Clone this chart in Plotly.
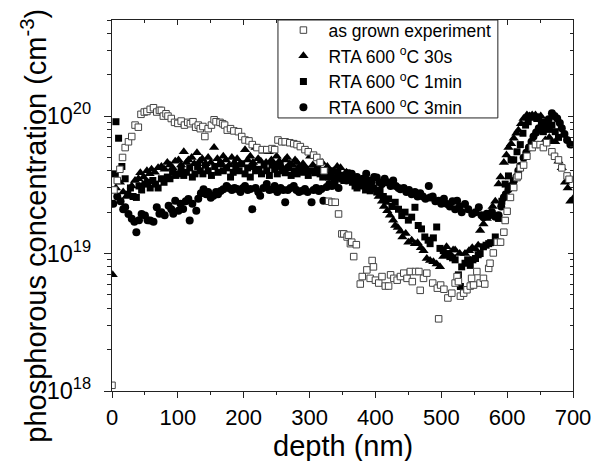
import plotly.graph_objects as go

# ---------------- data (depth in nm, concentration in cm^-3) ----------------
depth_grown = [0, 3, 8, 12, 16, 20, 25, 30, 35, 40, 44, 49, 53, 58, 63, 68, 72, 75, 78, 82,
               85, 90, 95, 100, 105, 110, 115, 119, 123, 127, 131, 134, 138, 141, 146, 151, 155, 158, 164, 168,
               171, 175, 180, 185, 192, 197, 202, 208, 213, 220, 228, 235, 243, 247, 252, 258, 263, 270, 276, 281,
               286, 293, 298, 306, 311, 316, 322, 329, 334, 339, 344, 349, 352, 357, 359, 362, 364, 367, 371, 377,
               380, 387, 392, 395, 397, 400, 405, 410, 415, 420, 423, 428, 433, 438, 443, 448, 453, 456, 461, 466,
               468, 473, 478, 487, 494, 496, 499, 504, 510, 516, 521, 524, 526, 529, 534, 539, 544, 546, 549, 554,
               559, 564, 566, 572, 574, 579, 585, 590, 595, 597, 600, 605, 610, 615, 617, 620, 625, 630, 638, 643,
               650, 655, 660, 668, 672, 678, 683, 691, 694]
conc_grown = [1.1e18, 2.9e19, 3.4e19, 4.1e19, 5.0e19, 5.9e19, 6.5e19, 7.1e19, 8.6e19, 8.3e19,
              1.03e20, 1.07e20, 1.08e20, 1.12e20, 1.15e20, 1.07e20, 1.1e20, 1.1e20, 1.0e20, 1.04e20,
              1.0e20, 9.6e19, 9.0e19, 8.85e19, 9.2e19, 8.6e19, 9.0e19, 8.8e19, 9.1e19, 8.3e19,
              8.6e19, 8.1e19, 8.4e19, 7.1e19, 8.1e19, 8.6e19, 9.4e19, 9.1e19, 9.0e19, 8.8e19,
              8.6e19, 7.9e19, 8.1e19, 7.8e19, 7.7e19, 7.1e19, 6.7e19, 6.6e19, 6.2e19, 5.9e19,
              5.7e19, 5.7e19, 5.8e19, 5.7e19, 6.7e19, 6.5e19, 6.5e19, 6.4e19, 6.3e19, 6.2e19,
              6.0e19, 5.7e19, 5.5e19, 5.2e19, 5.0e19, 4.6e19, 4.0e19, 2.4e19, 2.36e19, 2.36e19,
              1.94e19, 1.39e19, 1.39e19, 1.32e19, 1.36e19, 1.18e19, 1.21e19, 9.5e18, 1.16e19, 6.0e18,
              6.8e18, 7.6e18, 6.6e18, 8.9e18, 8.0e18, 6.4e18, 6.1e18, 6.8e18, 5.8e18, 5.8e18,
              7.0e18, 6.6e18, 6.4e18, 6.8e18, 7.2e18, 6.6e18, 7.4e18, 6.25e18, 7.4e18, 7.4e18,
              5.4e18, 6.6e18, 7.2e18, 6.1e18, 5.6e18, 3.35e18, 5.9e18, 5.5e18, 4.75e18, 5.15e18,
              6.1e18, 6.8e18, 6.25e18, 4.9e18, 5.15e18, 5.45e18, 5.8e18, 6.6e18, 5.9e18, 7.4e18,
              6.1e18, 6.6e18, 6.0e18, 7.8e18, 8.5e18, 1.01e19, 1.21e19, 1.21e19, 1.43e19, 1.74e19,
              2.03e19, 2.56e19, 3.02e19, 3.57e19, 3.67e19, 4.2e19, 4.4e19, 5.1e19, 5.9e19, 6.2e19,
              6.2e19, 5.9e19, 6.4e19, 5.5e19, 5.1e19, 4.8e19, 4.2e19, 3.67e19, 3.47e19]

depth_30s = [1, 6, 12, 17, 22, 25, 30, 35, 40, 43, 48, 53, 57, 60, 65, 70, 75, 80, 84, 88,
             92, 96, 101, 105, 109, 113, 116, 121, 125, 129, 133, 137, 142, 146, 150, 155, 160, 165, 169, 173,
             178, 182, 186, 190, 195, 202, 206, 210, 214, 218, 222, 226, 230, 234, 238, 242, 246, 250, 254, 258,
             263, 266, 270, 274, 278, 281, 285, 290, 295, 301, 305, 309, 314, 319, 323, 327, 332, 337, 342, 347,
             351, 356, 360, 364, 367, 371, 375, 380, 385, 390, 395, 400, 405, 410, 413, 418, 422, 427, 430, 434,
             438, 441, 446, 450, 455, 460, 464, 469, 473, 478, 483, 488, 493, 498, 503, 508, 513, 518, 521, 528,
             536, 542, 547, 552, 556, 559, 564, 569, 574, 578, 582, 587, 590, 595, 599, 602, 606, 610, 614, 617,
             621, 625, 630, 634, 638, 643, 647, 651, 655, 658, 664, 668, 673, 678, 683, 688, 692, 696, 700]
conc_30s = [7.0e18, 3.0e19, 3.3e19, 2.8e19, 2.6e19, 2.7e19, 3.1e19, 3.4e19, 3.5e19, 3.87e19,
            3.6e19, 4.0e19, 3.8e19, 4.1e19, 3.9e19, 4.2e19, 4.3e19, 4.1e19, 4.6e19, 4.4e19,
            4.2e19, 4.7e19, 4.8e19, 4.4e19, 5.5e19, 4.6e19, 4.8e19, 5.0e19, 4.5e19, 5.4e19,
            4.7e19, 4.9e19, 4.5e19, 5.0e19, 4.6e19, 5.9e19, 4.9e19, 4.6e19, 5.1e19, 4.8e19,
            4.4e19, 5.0e19, 4.6e19, 4.9e19, 4.5e19, 5.7e19, 4.8e19, 5.1e19, 4.6e19, 5.9e19,
            4.9e19, 4.7e19, 5.55e19, 4.6e19, 5.5e19, 4.8e19, 4.5e19, 5.1e19, 4.7e19, 4.3e19,
            4.8e19, 5.0e19, 4.5e19, 4.4e19, 4.8e19, 4.6e19, 4.3e19, 4.5e19, 4.1e19, 5.1e19,
            4.4e19, 4.0e19, 4.2e19, 4.6e19, 3.9e19, 4.3e19, 3.8e19, 4.0e19, 4.3e19, 4.2e19,
            3.7e19, 3.9e19, 3.5e19, 3.7e19, 3.57e19, 3.3e19, 3.5e19, 3.2e19, 3.3e19, 3.0e19,
            3.1e19, 2.9e19, 2.6e19, 2.4e19, 2.2e19, 2.05e19, 1.9e19, 1.75e19, 1.6e19, 1.55e19,
            1.45e19, 1.32e19, 1.4e19, 1.21e19, 1.25e19, 1.18e19, 1.2e19, 1.1e19, 1.05e19, 9.2e18,
            8.9e18, 8.7e18, 8.4e18, 8.0e18, 9.5e18, 1.12e19, 1.0e19, 1.06e19, 1.06e19, 1.0e19,
            1.0e19, 1.05e19, 1.1e19, 1.08e19, 1.15e19, 1.47e19, 1.64e19, 1.8e19, 2.0e19, 2.2e19,
            2.4e19, 3.2e19, 3.6e19, 4.6e19, 5.2e19, 5.9e19, 6.3e19, 6.9e19, 7.5e19, 7.9e19,
            8.8e19, 9.6e19, 1.02e20, 1.0e20, 1.02e20, 1.02e20, 9.8e19, 1.0e20, 8.5e19, 6.7e19,
            7.0e19, 6.5e19, 6.5e19, 4.7e19, 4.2e19, 3.3e19, 3.0e19, 2.4e19, 2.5e19]

depth_1min = [5, 6, 10, 15, 20, 24, 28, 32, 37, 41, 45, 50, 54, 58, 62, 66, 70, 75, 79, 84,
              88, 92, 97, 101, 105, 109, 113, 118, 122, 126, 130, 134, 138, 142, 146, 151, 156, 161, 165, 169,
              174, 180, 184, 188, 193, 197, 202, 206, 210, 214, 218, 223, 227, 231, 235, 239, 243, 247, 251, 255,
              259, 263, 268, 272, 277, 281, 285, 289, 294, 298, 303, 308, 312, 316, 320, 324, 329, 334, 339, 343,
              348, 352, 357, 361, 365, 369, 372, 376, 380, 385, 389, 392, 397, 402, 407, 412, 416, 420, 425, 430,
              435, 440, 445, 450, 455, 460, 465, 470, 475, 480, 483, 488, 493, 498, 503, 508, 513, 517, 521, 526,
              529, 531, 536, 540, 544, 548, 552, 556, 559, 564, 568, 572, 575, 582, 587, 592, 597, 602, 606, 610,
              615, 620, 624, 628, 632, 635, 640, 645, 648, 652, 655, 660, 664, 668, 673, 678]
conc_1min = [3.8e19, 9.1e19, 6.9e19, 4.3e19, 3.5e19, 2.7e19, 3.0e19, 2.6e19, 2.56e19, 3.1e19,
             2.9e19, 3.2e19, 3.3e19, 3.0e19, 3.4e19, 3.2e19, 3.0e19, 3.5e19, 3.3e19, 3.6e19,
             3.5e19, 3.9e19, 3.7e19, 3.8e19, 4.1e19, 3.7e19, 3.9e19, 4.2e19, 3.6e19, 3.8e19,
             4.3e19, 4.0e19, 3.8e19, 4.4e19, 4.0e19, 3.7e19, 4.3e19, 3.9e19, 4.5e19, 4.0e19,
             4.2e19, 3.6e19, 3.9e19, 4.3e19, 4.0e19, 4.5e19, 3.8e19, 4.2e19, 3.6e19, 4.3e19,
             4.0e19, 4.1e19, 3.8e19, 4.4e19, 4.0e19, 3.7e19, 4.4e19, 4.1e19, 3.8e19, 4.3e19,
             4.0e19, 3.87e19, 4.2e19, 3.7e19, 4.0e19, 3.8e19, 4.2e19, 3.9e19, 4.1e19, 3.7e19,
             4.0e19, 3.87e19, 4.2e19, 3.8e19, 3.6e19, 3.9e19, 3.6e19, 4.0e19, 3.57e19, 3.9e19,
             3.7e19, 3.4e19, 3.87e19, 3.5e19, 3.3e19, 3.1e19, 3.0e19, 3.3e19, 3.1e19, 2.9e19,
             3.2e19, 2.86e19, 3.0e19, 2.8e19, 2.9e19, 2.6e19, 2.4e19, 2.5e19, 2.2e19, 2.36e19,
             2.1e19, 1.89e19, 2.0e19, 1.75e19, 1.84e19, 2.17e19, 1.6e19, 1.51e19, 1.32e19, 1.25e19,
             1.18e19, 1.3e19, 1.56e19, 1.09e19, 1.05e19, 1.0e19, 9.5e18, 9.3e18, 9.0e18, 7.0e18,
             5.76e18, 8.0e18, 8.5e18, 9.0e18, 8.2e18, 9.0e18, 9.2e18, 9.8e18, 1.0e19, 1.12e19,
             1.15e19, 1.18e19, 1.2e19, 1.32e19, 1.8e19, 2.4e19, 3.2e19, 3.67e19, 4.8e19, 4.8e19,
             5.5e19, 6.2e19, 7.5e19, 8.6e19, 9.1e19, 1.0e20, 9.8e19, 9.6e19, 9.6e19, 9.0e19,
             7.7e19, 9.1e19, 8.0e19, 8.6e19, 7.7e19, 7.0e19]

depth_3min = [2, 8, 13, 17, 20, 25, 30, 34, 37, 41, 45, 50, 54, 58, 63, 68, 72, 75, 80, 86,
              90, 93, 96, 101, 104, 108, 112, 116, 118, 122, 128, 131, 135, 139, 143, 146, 150, 154, 158, 161,
              165, 169, 174, 177, 182, 186, 190, 195, 199, 202, 206, 210, 213, 218, 222, 225, 230, 235, 239, 243,
              247, 251, 256, 260, 263, 267, 271, 276, 280, 284, 289, 293, 297, 303, 306, 310, 314, 318, 321, 326,
              330, 334, 338, 344, 348, 352, 356, 360, 364, 368, 372, 377, 381, 386, 390, 394, 398, 402, 406, 410,
              414, 418, 423, 427, 431, 435, 438, 443, 447, 451, 455, 460, 464, 468, 472, 476, 481, 483, 487, 491,
              496, 500, 504, 509, 513, 517, 521, 524, 528, 531, 536, 541, 547, 552, 557, 561, 564, 569, 573, 577,
              582, 587, 591, 595, 598, 602, 606, 610, 614, 617, 620, 625, 629, 633, 637, 640, 644, 648, 653, 658,
              663, 668, 672, 676, 680, 683, 687, 691, 696]
conc_3min = [2.3e19, 2.6e19, 2.4e19, 2.1e19, 2.17e19, 1.94e19, 1.79e19, 1.7e19, 1.43e19, 1.75e19,
             1.94e19, 1.89e19, 1.75e19, 1.74e19, 1.7e19, 2.17e19, 1.95e19, 2.0e19, 1.9e19, 2.23e19,
             2.1e19, 1.95e19, 2.42e19, 2.05e19, 2.3e19, 2.11e19, 2.4e19, 2.49e19, 1.74e19, 2.3e19,
             2.05e19, 2.5e19, 2.75e19, 2.94e19, 2.7e19, 2.8e19, 2.55e19, 2.63e19, 2.8e19, 2.7e19,
             2.85e19, 2.94e19, 3.1e19, 3.0e19, 2.9e19, 3.0e19, 2.95e19, 2.8e19, 3.0e19, 3.1e19,
             2.9e19, 2.95e19, 2.1e19, 3.0e19, 2.8e19, 2.63e19, 3.0e19, 3.2e19, 2.9e19, 2.94e19,
             3.1e19, 2.8e19, 3.0e19, 2.9e19, 2.36e19, 2.9e19, 3.0e19, 3.1e19, 2.9e19, 2.8e19,
             2.86e19, 2.95e19, 2.8e19, 2.36e19, 2.9e19, 3.0e19, 2.85e19, 2.95e19, 2.42e19, 3.05e19,
             3.2e19, 3.1e19, 3.3e19, 3.0e19, 3.5e19, 3.6e19, 3.4e19, 3.5e19, 3.8e19, 3.4e19,
             3.6e19, 3.3e19, 3.5e19, 3.8e19, 3.4e19, 3.3e19, 3.6e19, 3.57e19, 3.3e19, 3.2e19,
             3.5e19, 3.3e19, 3.1e19, 3.4e19, 3.1e19, 3.0e19, 2.94e19, 3.0e19, 2.8e19, 2.9e19,
             2.7e19, 2.8e19, 2.6e19, 2.75e19, 2.6e19, 2.5e19, 3.1e19, 2.56e19, 2.6e19, 2.4e19,
             2.42e19, 2.3e19, 2.5e19, 2.29e19, 2.2e19, 2.4e19, 2.1e19, 2.42e19, 2.2e19, 2.0e19,
             2.29e19, 2.1e19, 1.94e19, 2.0e19, 2.17e19, 1.9e19, 1.84e19, 1.95e19, 1.9e19, 2.0e19,
             1.85e19, 1.9e19, 2.2e19, 2.56e19, 2.7e19, 2.94e19, 3.1e19, 3.37e19, 3.6e19, 4.0e19,
             4.33e19, 4.97e19, 5.4e19, 5.9e19, 6.5e19, 7.1e19, 7.6e19, 8.15e19, 8.3e19, 8.6e19,
             9.5e19, 1.05e20, 1.0e20, 9.6e19, 8.9e19, 8.15e19, 7.4e19, 6.7e19, 6.2e19]

x_ticks = [0, 100, 200, 300, 400, 500, 600, 700]
y_ticks = [1e18, 1e19, 1e20]
y_tick_text = ["10<sup>18</sup>", "10<sup>19</sup>", "10<sup>20</sup>"]
y_minor = [2e18, 3e18, 4e18, 5e18, 6e18, 7e18, 8e18, 9e18,
           2e19, 3e19, 4e19, 5e19, 6e19, 7e19, 8e19, 9e19,
           2e20, 3e20, 4e20, 5e20]

names = ["as grown experiment", "RTA 600 <sup>o</sup>C 30s",
         "RTA 600 <sup>o</sup>C 1min", "RTA 600 <sup>o</sup>C 3min"]
x_title = "depth (nm)"
y_title = "phosphorous concentration (cm<sup>-3</sup>)"

FONT = "Liberation Sans, Arial, sans-serif"
X_RANGE = [0, 700]
Y_RANGE = [18, 20.699]

fig = go.Figure()
fig.add_trace(go.Scatter(x=depth_30s, y=conc_30s, mode="markers", name=names[1], legendrank=2,
                         marker=dict(symbol="triangle-up", size=9, color="black", line=dict(width=0))))
fig.add_trace(go.Scatter(x=depth_1min, y=conc_1min, mode="markers", name=names[2], legendrank=3,
                         marker=dict(symbol="square", size=7, color="black", line=dict(width=0))))
fig.add_trace(go.Scatter(x=depth_3min, y=conc_3min, mode="markers", name=names[3], legendrank=4,
                         marker=dict(symbol="circle", size=8, color="black", line=dict(width=0))))
fig.add_trace(go.Scatter(x=depth_grown, y=conc_grown, mode="markers", name=names[0], legendrank=1,
                         marker=dict(symbol="square", size=6.5, color="white",
                                     line=dict(width=1, color="#444444"))))
# invisible trace to carry the mirrored (top/right) axes with inward ticks
fig.add_trace(go.Scatter(x=[None], y=[None], xaxis="x2", yaxis="y2", showlegend=False,
                         hoverinfo="skip"))

axis_line = dict(showline=True, linecolor="#222222", linewidth=1.3, showgrid=False, zeroline=False)

fig.update_layout(
    width=603, height=461,
    margin=dict(l=112, r=30, t=16, b=70),
    paper_bgcolor="white", plot_bgcolor="white",
    font=dict(family=FONT, color="black"),
    showlegend=True,
    legend=dict(x=0.361, y=1.021, xanchor="left", yanchor="top",
                bgcolor="rgba(0,0,0,0)", borderwidth=0,
                font=dict(size=17.5, family=FONT, color="black"),
                itemwidth=40, tracegroupgap=0),
    shapes=[dict(type="rect", xref="paper", yref="paper", x0=0.36, x1=0.837, y0=0.736, y1=1.0,
                 line=dict(color="#222222", width=1), fillcolor="white", layer="above")],
    xaxis=dict(range=X_RANGE, tickvals=x_ticks, ticks="outside", ticklen=6, tickwidth=1.2,
               tickcolor="#222222", tickfont=dict(size=22),
               minor=dict(dtick=50, tick0=0, ticks="outside", ticklen=3, tickwidth=1.2,
                          tickcolor="#222222"),
               **axis_line),
    yaxis=dict(type="log", range=Y_RANGE, tickmode="array", tickvals=y_ticks, ticktext=y_tick_text,
               ticks="outside", ticklen=7, tickwidth=1.2, tickcolor="#222222",
               tickfont=dict(size=23.5), ticklabelstandoff=8,
               minor=dict(tickmode="array", tickvals=y_minor, ticks="outside", ticklen=4,
                          tickwidth=1.2, tickcolor="#222222"),
               **axis_line),
    xaxis2=dict(overlaying="x", side="top", range=X_RANGE, tickvals=x_ticks, ticks="inside",
                ticklen=5, tickwidth=1.2, tickcolor="#222222", showticklabels=False,
                minor=dict(dtick=50, tick0=0, ticks="inside", ticklen=3, tickwidth=1.2,
                           tickcolor="#222222"),
                **axis_line),
    yaxis2=dict(overlaying="y", side="right", type="log", range=Y_RANGE, tickmode="array",
                tickvals=y_ticks, ticks="inside", ticklen=5, tickwidth=1.2, tickcolor="#222222",
                showticklabels=False,
                minor=dict(tickmode="array", tickvals=y_minor, ticks="inside", ticklen=3,
                           tickwidth=1.2, tickcolor="#222222"),
                **axis_line),
    annotations=[
        dict(text=x_title, xref="paper", yref="paper", x=0.5, y=-0.148,
             xanchor="center", yanchor="middle", showarrow=False,
             font=dict(size=29, family=FONT, color="black")),
        dict(text=y_title, xref="paper", yref="paper", x=-0.171, y=0.446,
             xanchor="center", yanchor="middle", textangle=-90, showarrow=False,
             font=dict(size=29, family=FONT, color="black")),
    ],
)

fig.write_html("out.html", config={"displayModeBar": False},
               post_script="document.body.style.margin='0';document.body.style.overflow='hidden';")
